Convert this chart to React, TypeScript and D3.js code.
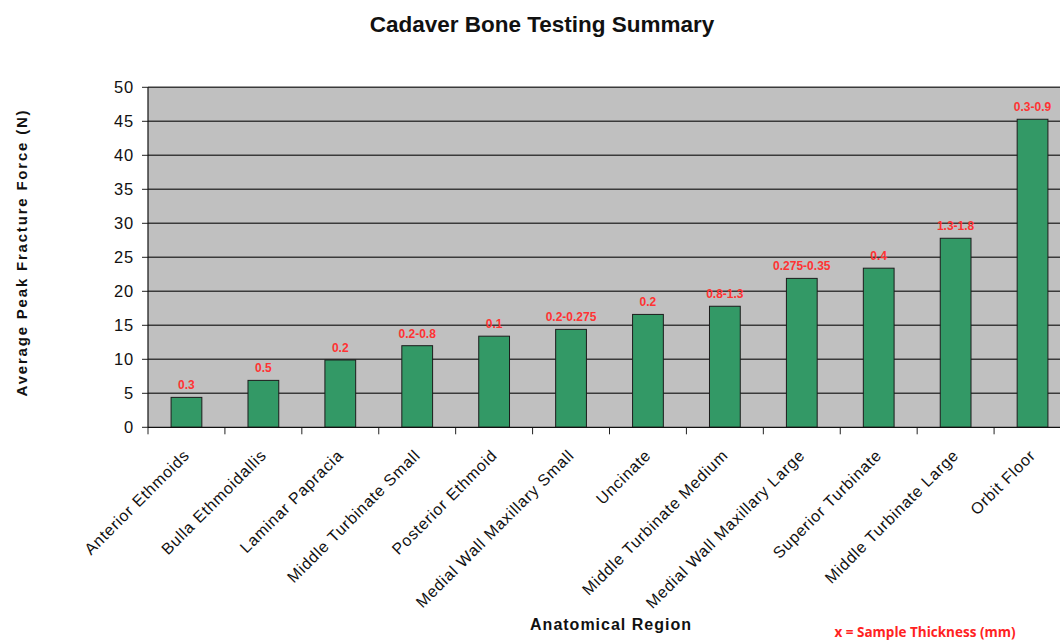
import React from "react";
import * as d3 from "d3";

const categories = [
  "Anterior Ethmoids",
  "Bulla Ethmoidallis",
  "Laminar Papracia",
  "Middle Turbinate Small",
  "Posterior Ethmoid",
  "Medial Wall Maxillary Small",
  "Uncinate",
  "Middle Turbinate Medium",
  "Medial Wall Maxillary Large",
  "Superior Turbinate",
  "Middle Turbinate Large",
  "Orbit Floor",
];
const forces = [4.4, 6.9, 9.9, 12.0, 13.4, 14.4, 16.6, 17.8, 21.9, 23.4, 27.8, 45.3];
const thickness = [
  "0.3", "0.5", "0.2", "0.2-0.8", "0.1", "0.2-0.275", "0.2",
  "0.8-1.3", "0.275-0.35", "0.4", "1.3-1.8", "0.3-0.9",
];
const yTicks = [0, 5, 10, 15, 20, 25, 30, 35, 40, 45, 50];

const W = 1060;
const H = 642;
const left = 148;
const right = 1071;
const top = 87.3;
const bottom = 427.3;

export default function App() {
  const x = d3.scaleBand<string>().domain(categories).range([left, right]).padding(0);
  const y = d3.scaleLinear().domain([0, 50]).range([bottom, top]);
  const bw = x.bandwidth() * 0.4;
  const font = "Arial, 'Liberation Sans', sans-serif";
  return (
    <svg width={W} height={H} style={{ position: "absolute", left: 0, top: 0, background: "#fff" }}>
      <text x={542} y={32} textAnchor="middle" fontFamily={font} fontWeight="bold" fontSize={22.5} fill="#111">
        Cadaver Bone Testing Summary
      </text>
      <rect x={left} y={top} width={right - left} height={bottom - top} fill="#c0c0c0" />
      {yTicks.map((t) => (
        <g key={t}>
          {t > 0 && (
            <line x1={left} x2={right} y1={y(t)} y2={y(t)} stroke="#3a3a3a" strokeWidth={1.6} />
          )}
          <line x1={left - 6} x2={left} y1={y(t)} y2={y(t)} stroke="#222" strokeWidth={1} />
          <text x={134} y={y(t)} dy="0.36em" textAnchor="end" fontFamily={font} fontSize={16.5} letterSpacing={0.8} fill="#111">
            {t}
          </text>
        </g>
      ))}
      {categories.map((c, i) => {
        const cx = (x(c) as number) + x.bandwidth() / 2;
        return (
          <g key={c}>
            <rect
              x={cx - bw / 2}
              y={y(forces[i])}
              width={bw}
              height={bottom - y(forces[i])}
              fill="#339966"
              stroke="#1c1c1c"
              strokeWidth={1}
            />
            <text
              x={cx}
              y={y(forces[i]) - 8}
              textAnchor="middle"
              fontFamily={font}
              fontWeight="bold"
              fontSize={12}
              fill="#ff3333"
            >
              {thickness[i]}
            </text>
            <text
              transform={`translate(${cx + 4},${bottom + 29}) rotate(-45)`}
              textAnchor="end"
              fontFamily={font}
              fontSize={16}
              letterSpacing={0.8}
              fill="#111"
            >
              {c}
            </text>
          </g>
        );
      })}
      {d3.range(categories.length + 1).map((i) => {
        const xx = left + i * x.bandwidth();
        return <line key={i} x1={xx} x2={xx} y1={bottom} y2={bottom + 7} stroke="#222" strokeWidth={1} />;
      })}
      <line x1={left} x2={left} y1={top} y2={bottom} stroke="#111" strokeWidth={1.2} />
      <line x1={left} x2={right} y1={bottom} y2={bottom} stroke="#111" strokeWidth={1.2} />
      <text
        transform={`translate(27,252.5) rotate(-90)`}
        textAnchor="middle"
        fontFamily={font}
        fontWeight="bold"
        fontSize={15}
        letterSpacing={1.8}
        fill="#111"
      >
        Average Peak Fracture Force (N)
      </text>
      <text x={611} y={630} textAnchor="middle" fontFamily={font} fontWeight="bold" fontSize={16} letterSpacing={1} fill="#111">
        Anatomical Region
      </text>
      <text x={925} y={637} textAnchor="middle" fontFamily="'Open Sans', sans-serif" fontWeight="bold" fontSize={13.5} fill="#ff2222">
        x = Sample Thickness (mm)
      </text>
    </svg>
  );
}
